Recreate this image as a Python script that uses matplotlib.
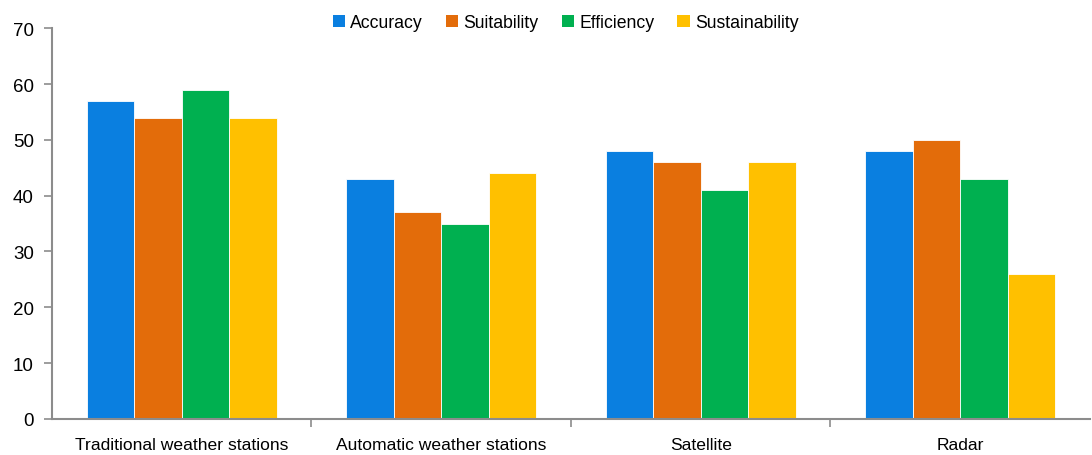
import matplotlib as mpl
mpl.use("Agg")
import matplotlib.pyplot as plt
from matplotlib.patches import Patch
import numpy as np

categories = ["Traditional weather stations", "Automatic weather stations", "Satellite", "Radar"]
series_names = ["Accuracy", "Suitability", "Efficiency", "Sustainability"]
accuracy = [57, 43, 48, 48]
suitability = [54, 37, 46, 50]
efficiency = [59, 35, 41, 43]
sustainability = [54, 44, 46, 26]
y_ticks = [0, 10, 20, 30, 40, 50, 60, 70]

COLORS = ["#0A7FE0", "#E36C0A", "#00B050", "#FFC000"]
AXIS_GREY = "#8C8C8C"

plt.rcParams.update({"font.family": ["Liberation Sans", "DejaVu Sans"], "font.size": 12.5})

fig = plt.figure(figsize=(10.92, 4.56), dpi=100)
ax = fig.add_axes([0.0476, 0.079, 0.9505, 0.857])

x = np.arange(len(categories))
width = 0.183
values = [accuracy, suitability, efficiency, sustainability]
for i, (vals, col) in enumerate(zip(values, COLORS)):
    ax.bar(x + (i - 1.5) * width, vals, width, color=col, edgecolor="white", linewidth=0.6, zorder=2)

ax.set_xlim(-0.5, len(categories) - 0.5)
ax.set_ylim(0, 70)
ax.set_yticks(y_ticks)
ax.tick_params(axis="y", direction="out", length=6, width=1.2, color=AXIS_GREY, labelsize=13.5, pad=7)

# category labels centred, tick marks on the boundaries between groups
ax.set_xticks(x)
ax.set_xticklabels(categories, fontsize=12.6)
ax.tick_params(axis="x", which="major", length=0, pad=13)
ax.set_xticks(np.arange(0.5, len(categories) - 0.5, 1.0), minor=True)
ax.tick_params(axis="x", which="minor", direction="out", length=6, width=1.2, color=AXIS_GREY)

for side in ["top", "right"]:
    ax.spines[side].set_visible(False)
for side in ["left", "bottom"]:
    ax.spines[side].set_color(AXIS_GREY)
    ax.spines[side].set_linewidth(1.5)

handles = [Patch(facecolor=c, edgecolor="none", label=n) for c, n in zip(COLORS, series_names)]
fig.legend(handles=handles, loc="center", bbox_to_anchor=(0.518, 0.948), ncol=4, frameon=False,
           fontsize=12.7, handlelength=0.7, handleheight=0.7, handletextpad=0.3, columnspacing=1.3)

fig.savefig("out.png", dpi=100)
